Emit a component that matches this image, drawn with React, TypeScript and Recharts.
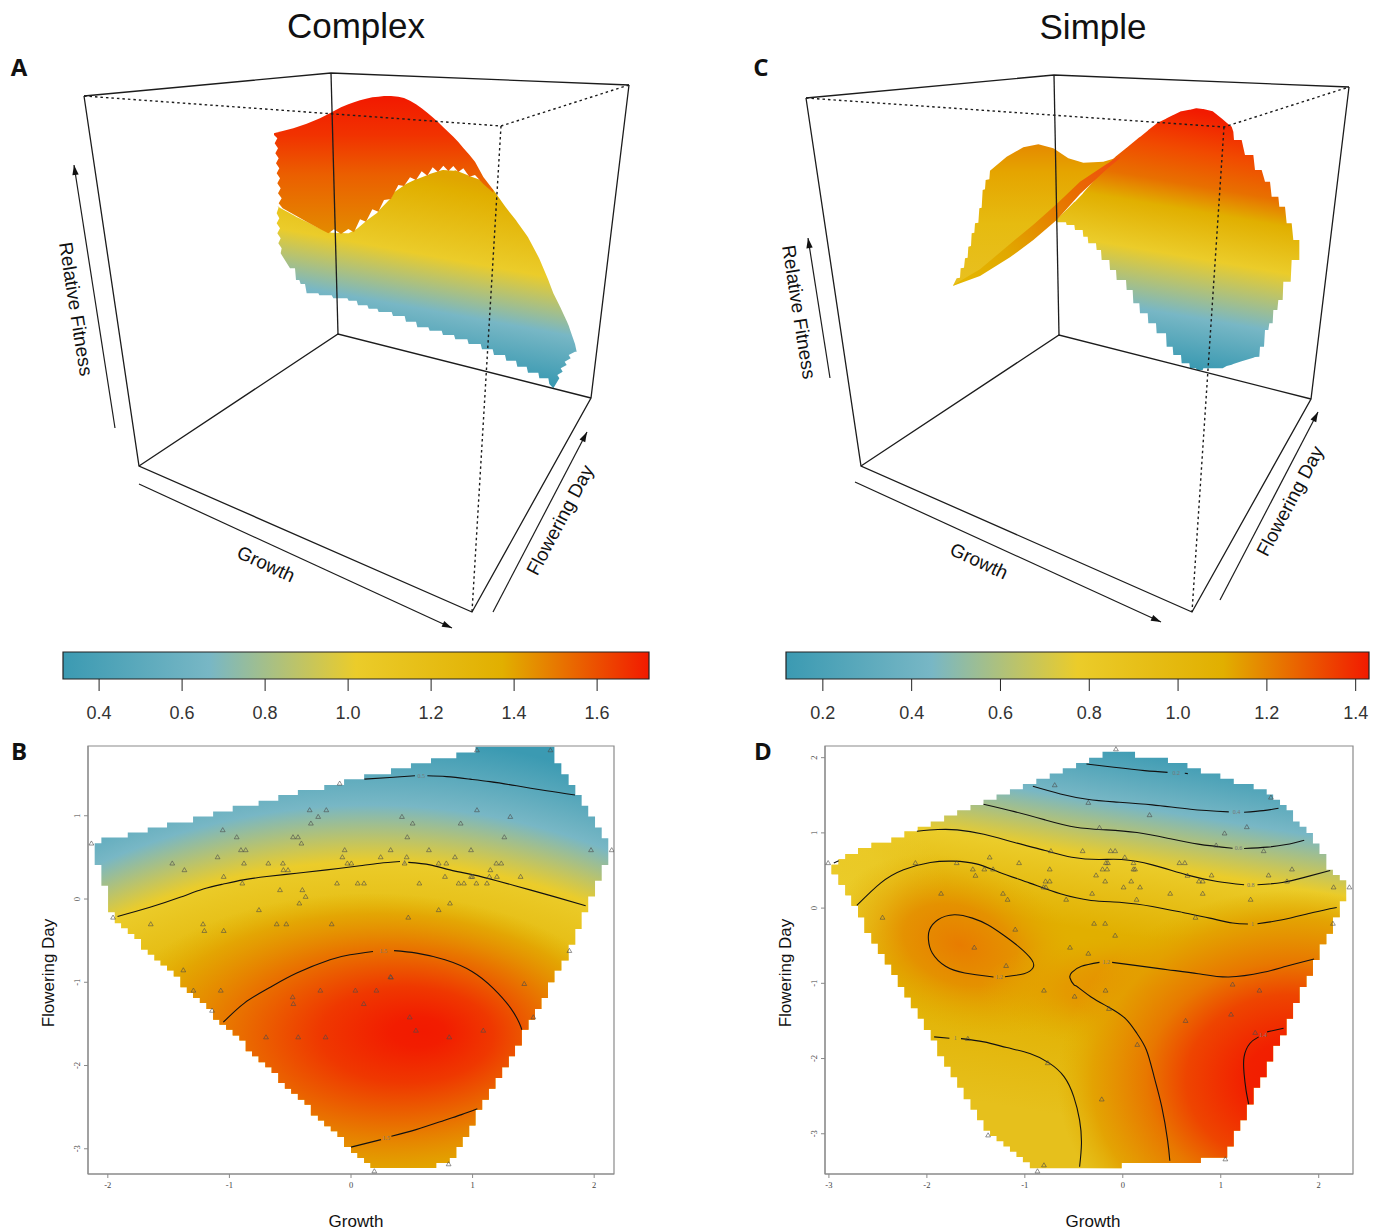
import React from 'react';
import {
  Area, ComposedChart, Line, ReferenceArea, ReferenceDot, Scatter, XAxis, YAxis,
} from 'recharts';

const W = 1379;
const H = 1231;
const ZISSOU = ['#3B9AB2', '#78B7C5', '#EBCC2A', '#E1AF00', '#F21A00'];

// colour keys
const aTicks = [0.4, 0.6, 0.8, 1.0, 1.2, 1.4, 1.6];
const aRange = [0.313, 1.725];
const cTicks = [0.2, 0.4, 0.6, 0.8, 1.0, 1.2, 1.4];
const cRange = [0.117, 1.43];

// ---- panel A, projected surface (screen units of the 3D view)
const aBoxBack = [[[-528, 48], [213, -21], [1107, 15]], [[213, -21], [234, 762]], [[-363, 1158], [234, 762], [993, 954]], [[-528, 48], [-363, 1158], [636, 1596], [993, 954], [1107, 15]]];
const aBoxDashed = [[[-528, 48], [723, 138], [1107, 15]], [[723, 138], [636, 1596]]];
const aArrows = [[[-435, 1044], [-558, 255]], [[-363, 1212], [576, 1644]], [[699, 1596], [981, 1056]]];

const aRedX = [42, 52, 44, 54, 46, 56, 48, 58, 50, 60, 52, 62, 54, 65, 56, 68, 100, 140, 180, 205, 222, 243, 265, 282, 300, 318, 337, 355, 372, 393, 415, 432, 450, 468, 485, 502, 518, 534, 550, 565, 580, 595, 610, 628, 645, 670, 700];
const aRedTop = [160, 157, 159, 156, 159, 156, 158, 155, 158, 155, 157, 155, 156, 154, 156, 153, 145, 131, 115, 102, 93, 82, 73, 67, 61, 56, 52, 50, 48, 48, 50, 54, 62, 73, 85, 98, 112, 126, 142, 156, 170, 186, 204, 224, 245, 291, 330];
const aRedLow = [165, 175, 190, 205, 220, 235, 250, 265, 280, 295, 310, 325, 340, 355, 370, 385, 403, 425, 447, 460, 448, 462, 447, 457, 418, 425, 388, 395, 360, 357, 315, 318, 292, 300, 274, 287, 262, 276, 257, 273, 258, 276, 265, 290, 285, 312, 338];

const aFrontX = [55, 50, 58, 50, 60, 52, 62, 55, 65, 62, 90, 95, 105, 108, 118, 122, 135, 140, 175, 178, 215, 220, 262, 266, 290, 294, 322, 326, 352, 356, 395, 399, 434, 438, 468, 472, 505, 509, 545, 549, 582, 586, 622, 626, 662, 666, 698, 702, 735, 739, 768, 772, 800, 804, 835, 838, 865, 868, 880, 898, 892, 908, 902, 920, 914, 932, 926, 945, 950];
const aFrontTop = [380, 378, 380, 378, 382, 380, 384, 381, 386, 385, 400, 403, 408, 410, 415, 417, 423, 425, 443, 445, 458, 458, 460, 460, 447, 444, 420, 417, 398, 392, 352, 339, 315, 312, 298, 297, 284, 282, 271, 270, 272, 271, 285, 287, 300, 305, 328, 332, 379, 384, 421, 427, 466, 472, 530, 536, 600, 608, 640, 676, 664, 696, 684, 723, 709, 751, 737, 792, 815];
const aFrontLow = [385, 400, 415, 430, 445, 460, 475, 490, 505, 520, 565, 565, 565, 600, 600, 612, 612, 640, 640, 646, 646, 655, 655, 662, 662, 676, 676, 686, 686, 696, 696, 708, 708, 725, 725, 742, 742, 752, 752, 765, 765, 778, 778, 792, 792, 808, 808, 825, 825, 842, 842, 860, 860, 878, 878, 895, 895, 912, 925, 895, 885, 875, 865, 855, 845, 835, 825, 815, 815];

// ---- panel C, projected surface
const cBoxBack = [[[-402, 24], [342, -45], [1227, -9]], [[342, -45], [357, 735]], [[-237, 1128], [357, 735], [1113, 927]], [[-402, 24], [-237, 1128], [756, 1566], [1113, 927], [1227, -9]]];
const cBoxDashed = [[[-402, 24], [852, 111], [1227, -9]], [[852, 111], [756, 1566]]];
const cArrows = [[[-330, 864], [-396, 444]], [[-255, 1176], [663, 1596]], [[840, 1530], [1134, 966]]];

const cBackX = [40, 50, 60, 62, 72, 75, 83, 85, 93, 95, 103, 105, 115, 118, 125, 128, 135, 137, 148, 150, 200, 250, 295, 340, 385, 430, 490, 540];
const cBackTop = [585, 565, 563, 535, 533, 505, 503, 470, 468, 430, 428, 400, 398, 355, 353, 300, 298, 270, 268, 242, 200, 172, 163, 175, 205, 218, 215, 200];
const cBackLow = [587, 582, 577, 575, 570, 568, 564, 563, 559, 558, 554, 553, 548, 546, 542, 540, 535, 534, 525, 523, 490, 450, 412, 377, 340, 300, 235, 200];

const cFoldX = [40, 120, 210, 280, 350, 420, 500, 540];
const cFoldTop = [585, 538, 462, 404, 342, 275, 222, 198];
const cFoldLow = [587, 558, 502, 450, 390, 312, 238, 204];

const cFrontX = [350, 378, 380, 403, 405, 428, 430, 443, 445, 468, 470, 483, 485, 508, 510, 528, 530, 558, 560, 578, 580, 598, 600, 623, 625, 648, 650, 678, 680, 698, 700, 723, 725, 748, 750, 768, 770, 788, 790, 818, 820, 848, 860, 875, 880, 882, 905, 915, 940, 945, 958, 960, 965, 972, 975, 985, 988, 990, 995, 998, 1000, 1012, 1015, 1018, 1028, 1030, 1035, 1040, 1052, 1055, 1060, 1078];
const cFrontTop = [388, 361, 359, 336, 335, 311, 308, 293, 291, 264, 262, 247, 244, 218, 216, 199, 197, 175, 173, 158, 157, 142, 141, 122, 120, 102, 100, 86, 85, 76, 75, 64, 64, 59, 59, 55, 55, 57, 57, 64, 65, 88, 98, 110, 125, 150, 150, 195, 195, 240, 240, 240, 240, 264, 275, 275, 275, 275, 320, 320, 320, 320, 320, 350, 350, 350, 350, 400, 400, 400, 450, 450];
const cFrontLow = [397, 397, 405, 405, 420, 420, 440, 440, 460, 460, 480, 480, 510, 510, 540, 540, 570, 570, 600, 600, 640, 640, 670, 670, 700, 700, 730, 730, 770, 770, 795, 795, 820, 820, 835, 835, 840, 840, 835, 835, 835, 835, 828, 824, 822, 821, 814, 811, 803, 801, 800, 770, 770, 770, 720, 720, 700, 700, 700, 700, 660, 660, 630, 630, 630, 575, 575, 575, 575, 510, 510, 510];

// ---- panel B, fitted surface footprint
const bGrowth = [-2.108, -2.053, -1.998, -1.943, -1.891, -1.836, -1.782, -1.727, -1.672, -1.618, -1.567, -1.513, -1.458, -1.403, -1.35, -1.299, -1.243, -1.189, -1.134, -1.082, -1.027, -0.973, -0.918, -0.866, -0.814, -0.76, -0.705, -0.653, -0.598, -0.544, -0.492, -0.437, -0.382, -0.33, -0.272, -0.22, -0.166, -0.111, -0.057, 0, 0.053, 0.108, 0.16, 0.329, 0.493, 0.658, 0.701, 0.811, 0.866, 0.918, 0.972, 1.024, 1.079, 1.134, 1.188, 1.243, 1.298, 1.349, 1.405, 1.46, 1.513, 1.566, 1.62, 1.673, 1.73, 1.79, 1.845, 1.897, 1.951, 2.007, 2.062, 2.116];
const bTop = [0.67, 0.74, 0.74, 0.74, 0.74, 0.8, 0.8, 0.8, 0.86, 0.86, 0.86, 0.92, 0.92, 0.92, 0.92, 0.99, 0.99, 0.99, 1.05, 1.05, 1.05, 1.12, 1.12, 1.12, 1.12, 1.18, 1.18, 1.18, 1.25, 1.25, 1.25, 1.31, 1.31, 1.31, 1.31, 1.37, 1.37, 1.37, 1.44, 1.44, 1.44, 1.5, 1.5, 1.57, 1.63, 1.69, 1.69, 1.69, 1.76, 1.76, 1.76, 1.83, 1.83, 1.83, 1.83, 1.83, 1.83, 1.83, 1.83, 1.83, 1.83, 1.83, 1.83, 1.63, 1.5, 1.37, 1.25, 1.12, 0.99, 0.86, 0.73, 0.73];
const bBottom = [0.41, 0.16, -0.16, -0.29, -0.35, -0.42, -0.48, -0.61, -0.67, -0.74, -0.8, -0.86, -0.93, -1.06, -1.13, -1.19, -1.25, -1.32, -1.45, -1.51, -1.57, -1.64, -1.7, -1.83, -1.89, -1.96, -2.02, -2.09, -2.21, -2.28, -2.34, -2.41, -2.47, -2.6, -2.66, -2.73, -2.79, -2.86, -2.98, -3.05, -3.11, -3.17, -3.23, -3.23, -3.23, -3.23, -3.17, -3.11, -2.98, -2.86, -2.72, -2.53, -2.41, -2.28, -2.15, -2.02, -1.89, -1.76, -1.57, -1.45, -1.32, -1.19, -1.0, -0.86, -0.74, -0.55, -0.36, -0.16, 0.03, 0.22, 0.41, 0.41];

const bContours = [
  [[0.11, 1.44], [0.32, 1.46], [0.526, 1.48]],
  [[0.628, 1.48], [0.787, 1.47], [0.979, 1.44], [1.143, 1.41], [1.362, 1.36], [1.609, 1.3], [1.842, 1.25]],
  [[-1.92, -0.21], [-1.653, -0.1], [-1.406, 0.02], [-1.215, 0.12], [-1.05, 0.18], [-0.886, 0.23], [-0.693, 0.27], [-0.447, 0.31], [-0.2, 0.35], [0.074, 0.4], [0.238, 0.43], [0.403, 0.45]],
  [[0.471, 0.44], [0.65, 0.41], [0.814, 0.35], [1.006, 0.29], [1.198, 0.22], [1.472, 0.11], [1.692, 0.02], [1.93, -0.08]],
  [[-1.05, -1.48], [-0.877, -1.25], [-0.676, -1.07], [-0.446, -0.89], [-0.173, -0.73], [-0.008, -0.67], [0.181, -0.63]],
  [[0.354, -0.62], [0.54, -0.65], [0.773, -0.73], [0.995, -0.87], [1.168, -1.07], [1.313, -1.31], [1.384, -1.49], [1.405, -1.57]],
  [[0, -2.98], [0.247, -2.89]],
  [[0.332, -2.85], [0.535, -2.77], [0.765, -2.66], [0.909, -2.59], [1.039, -2.52]],
];
const bContourLabels = [[0.577, 1.48, '0.5'], [0.437, 0.445, '1'], [0.268, -0.62, '1.5'], [0.29, -2.87, '1.5']];
const bPoints = [
  [-2.135, 0.67], [-1.055, 0.83], [-0.94, 0.745], [-0.477, 0.745], [-0.436, 0.745], [-0.408, 0.67], [-0.34, 1.07], [-0.27, 0.99], [-0.203, 1.07], [-0.33, 0.91], [-0.905, 0.59], [-0.866, 0.59], [-1.097, 0.505], [-1.47, 0.43], [-1.37, 0.35], [-0.88, 0.43], [-0.68, 0.43], [-0.56, 0.43], [-0.556, 0.35], [-0.518, 0.35], [-1.047, 0.27], [-0.894, 0.19], [-0.584, 0.11], [-0.4, 0.11], [-0.373, 0.03], [-0.425, -0.05], [-0.757, -0.13], [-1.957, -0.22], [-1.647, -0.3], [-1.217, -0.3], [-1.206, -0.38], [-1.047, -0.38], [-0.611, -0.3], [-0.532, -0.3],
  [1.036, 1.79], [1.64, 1.79], [-0.093, 1.39], [0.419, 0.99], [0.507, 0.91], [0.902, 0.91], [1.036, 1.07], [1.31, 0.99], [0.463, 0.745], [1.261, 0.745], [-0.052, 0.59], [0.326, 0.59], [0.641, 0.59], [0.987, 0.59], [1.974, 0.59], [2.144, 0.59], [-0.071, 0.505], [0.244, 0.505], [0.458, 0.505], [0.855, 0.505], [-0.03, 0.43], [0.003, 0.43], [0.441, 0.43], [0.721, 0.43], [0.784, 0.43], [1.195, 0.43], [1.236, 0.43], [1.146, 0.35], [0.773, 0.27], [0.987, 0.27], [0.998, 0.27], [1.138, 0.27], [1.2, 0.27], [1.395, 0.27], [-0.115, 0.19], [0.055, 0.19], [0.107, 0.19], [0.562, 0.19], [0.885, 0.19], [0.929, 0.19], [1.031, 0.19], [1.118, 0.19], [0.814, -0.05], [0.721, -0.13], [0.471, -0.22], [-0.159, -0.3], [1.796, -0.62], [0.329, -0.94],
  [-1.379, -0.853], [-1.296, -1.097], [-1.071, -1.097], [-1.143, -1.338], [-0.48, -1.177], [-0.474, -1.258], [-0.252, -1.097], [0.036, -1.097], [0.209, -1.097], [0.105, -1.258], [0.324, -0.933], [1.425, -1.017], [1.5, -1.418], [0.483, -1.418], [0.534, -1.578], [1.088, -1.578], [-0.699, -1.658], [-0.434, -1.658], [-0.209, -1.658], [0.808, -1.658], [0.192, -3.267], [0.803, -3.183],
];

// ---- panel D
const dGrowth = [-2.973, -2.902, -2.832, -2.77, -2.703, -2.637, -2.566, -2.5, -2.43, -2.363, -2.297, -2.23, -2.164, -2.094, -2.031, -1.961, -1.895, -1.824, -1.758, -1.691, -1.625, -1.555, -1.488, -1.422, -1.355, -1.289, -1.219, -1.152, -1.086, -1.02, -0.949, -0.883, -0.746, -0.613, -0.477, -0.344, -0.207, -0.012, 0.125, 0.461, 0.66, 0.797, 0.996, 1.066, 1.133, 1.199, 1.266, 1.336, 1.402, 1.469, 1.535, 1.605, 1.672, 1.738, 1.805, 1.875, 1.941, 2.008, 2.078, 2.145, 2.215, 2.281];
const dTop = [0.575, 0.65, 0.72, 0.72, 0.8, 0.8, 0.87, 0.87, 0.87, 0.94, 0.94, 1.02, 1.02, 1.08, 1.08, 1.15, 1.15, 1.23, 1.23, 1.3, 1.3, 1.37, 1.37, 1.44, 1.44, 1.51, 1.51, 1.58, 1.58, 1.65, 1.65, 1.72, 1.79, 1.86, 1.93, 2.0, 2.08, 2.08, 2.0, 1.93, 1.86, 1.79, 1.72, 1.72, 1.65, 1.65, 1.65, 1.58, 1.58, 1.51, 1.44, 1.37, 1.3, 1.15, 1.08, 1.0, 0.86, 0.72, 0.51, 0.44, 0.37, 0.37];
const dBottom = [0.45, 0.31, 0.17, 0.03, -0.12, -0.33, -0.47, -0.61, -0.75, -0.89, -1.05, -1.19, -1.33, -1.47, -1.62, -1.76, -1.97, -2.11, -2.25, -2.39, -2.54, -2.68, -2.82, -2.96, -3.03, -3.1, -3.17, -3.24, -3.31, -3.38, -3.46, -3.46, -3.46, -3.46, -3.46, -3.46, -3.46, -3.39, -3.39, -3.39, -3.39, -3.32, -3.32, -3.17, -2.96, -2.82, -2.61, -2.39, -2.25, -2.04, -1.83, -1.69, -1.47, -1.26, -1.05, -0.9, -0.69, -0.48, -0.34, -0.12, 0.09, 0.09];

const dContours = [
  [[-0.371, 1.916], [-0.09, 1.872], [0.223, 1.827], [0.457, 1.805]],
  [[0.633, 1.792], [0.664, 1.788]],
  [[-0.918, 1.619], [-0.637, 1.518], [-0.363, 1.447], [-0.09, 1.412], [0.301, 1.372], [0.691, 1.314], [1.082, 1.279]],
  [[1.238, 1.274], [1.434, 1.296], [1.59, 1.327]],
  [[-1.422, 1.381], [-1.105, 1.283], [-0.793, 1.173], [-0.48, 1.075], [-0.168, 1.04], [0.145, 1.004], [0.457, 0.929], [0.77, 0.85], [1.121, 0.796]],
  [[1.238, 0.792], [1.473, 0.81], [1.668, 0.845], [1.852, 0.903]],
  [[-2.102, 1.022], [-1.887, 1.044], [-1.691, 1.04], [-1.418, 0.982], [-1.105, 0.872], [-0.793, 0.765], [-0.52, 0.677], [-0.246, 0.646], [-0.012, 0.646], [0.301, 0.575], [0.652, 0.442], [0.965, 0.354], [1.238, 0.31]],
  [[1.375, 0.31], [1.629, 0.341], [1.863, 0.412], [2.117, 0.5]],
  [[-2.715, 0.035], [-2.473, 0.332], [-2.238, 0.509], [-1.965, 0.606], [-1.73, 0.624], [-1.496, 0.588], [-1.262, 0.478], [-0.949, 0.332], [-0.637, 0.19], [-0.324, 0.102], [-0.012, 0.075], [0.301, 0.022], [0.613, -0.058], [0.887, -0.133], [1.121, -0.199], [1.277, -0.212]],
  [[1.375, -0.208], [1.629, -0.155], [1.941, -0.058], [2.184, 0.009]],
  [[-2.95, 0.6], [-2.9, 0.63]],
  [[-1.203, -0.912], [-1.008, -0.872], [-0.918, -0.796], [-0.93, -0.686], [-1.066, -0.509], [-1.223, -0.354], [-1.379, -0.221], [-1.535, -0.133], [-1.719, -0.088], [-1.887, -0.155], [-1.973, -0.288], [-1.984, -0.42], [-1.945, -0.597], [-1.809, -0.774], [-1.613, -0.863], [-1.32, -0.916]],
  [[1.953, -0.677], [1.668, -0.774], [1.434, -0.854], [1.082, -0.916], [0.77, -0.872], [0.457, -0.819], [0.145, -0.765], [-0.109, -0.721]],
  [[-0.238, -0.721], [-0.422, -0.774], [-0.52, -0.854], [-0.539, -0.929], [-0.5, -1.018], [-0.461, -1.049], [-0.324, -1.181], [-0.148, -1.314], [0.027, -1.469], [0.145, -1.668], [0.242, -1.889], [0.32, -2.243], [0.398, -2.642], [0.457, -3.084], [0.48, -3.358]],
  [[-1.926, -1.712], [-1.77, -1.73]],
  [[-1.652, -1.735], [-1.418, -1.779], [-1.184, -1.854], [-0.949, -1.934], [-0.754, -2.058], [-0.598, -2.243], [-0.5, -2.509], [-0.441, -2.819], [-0.422, -3.128], [-0.441, -3.438]],
  [[1.641, -1.597], [1.473, -1.646]],
  [[1.387, -1.712], [1.297, -1.8], [1.238, -1.978], [1.238, -2.199], [1.258, -2.42], [1.285, -2.606]],
];
const dContourLabels = [[0.545, 1.8, '0.2'], [1.16, 1.275, '0.4'], [1.18, 0.795, '0.6'], [1.305, 0.31, '0.8'], [1.325, -0.21, '1'], [-1.26, -0.915, '1.2'], [-0.17, -0.72, '1.2'], [-1.71, -1.73, '1'], [1.43, -1.68, '1.4']];
const dPoints = [
  [-0.07, 2.115], [-0.695, 1.637], [-0.352, 1.403], [0.273, 1.239], [1.512, 1.473], [1.266, 1.08], [1.039, 0.996], [0.953, 0.836], [1.438, 0.761], [-0.238, 1.071], [-3.008, 0.602], [-2.117, 0.602], [-1.695, 0.602], [-1.359, 0.677], [-1.059, 0.602], [-0.734, 0.761], [-0.41, 0.761], [-0.125, 0.761], [-0.078, 0.761], [0.02, 0.677], [-0.152, 0.602], [-0.172, 0.602], [-1.531, 0.518], [-1.414, 0.518], [-1.324, 0.518], [-1.504, 0.434], [-0.746, 0.518], [-0.207, 0.518], [-0.16, 0.518], [0.109, 0.518], [0.125, 0.518], [0.109, 0.602], [-0.273, 0.438], [-0.18, 0.358], [0.086, 0.358], [-0.789, 0.358], [-0.746, 0.358], [-0.809, 0.279], [-0.785, 0.279], [0.008, 0.279], [0.176, 0.279], [0.578, 0.602], [0.633, 0.602], [0.66, 0.434], [0.906, 0.438], [0.777, 0.358], [0.816, 0.358], [1.488, 0.438], [1.676, 0.358], [1.727, 0.518], [2.152, 0.279], [2.313, 0.279], [-1.855, 0.195], [-1.223, 0.195], [-1.176, 0.115], [-0.578, 0.115], [-0.313, 0.195], [0.141, 0.115], [0.484, 0.195], [0.816, 0.195], [1.305, 0.115], [-2.453, -0.124], [0.742, -0.124], [-0.293, -0.204], [-0.18, -0.204], [2.145, -0.204], [-1.098, -0.283], [-0.078, -0.363], [-1.516, -0.522], [-0.539, -0.522], [-0.352, -0.602], [-1.191, -0.765],
  [-0.805, -1.093], [-0.176, -1.093], [-0.492, -1.173], [1.121, -1.013], [1.395, -1.093], [-0.141, -1.336], [1.105, -1.412], [0.641, -1.496], [1.352, -1.655], [-1.582, -1.735], [0.148, -1.814], [-0.766, -2.058], [-0.215, -2.54], [-1.375, -3.018], [-0.805, -3.416], [-0.871, -3.496], [1.047, -3.336],
];

const toXY = (seg) => seg.map(([x, y]) => ({ x, y }));
const toRows = (xs, lo, hi) => xs.map((x, i) => ({ x, band: [lo[i], hi[i]] }));

const Stops = ({ items }) => items.map(([o, c, a], i) => (
  <stop key={i} offset={o} stopColor={c} stopOpacity={a ?? 1} />
));

const Triangle = (p) => {
  const { cx, cy } = p;
  return <path d={`M${cx} ${cy - 2.3}L${cx + 2.4} ${cy + 1.8}L${cx - 2.4} ${cy + 1.8}Z`} fill="none" stroke="#4b4b4b" strokeWidth={0.7} opacity={0.85} />;
};

const xTick = (p) => (
  <text x={p.x} y={p.y + 8} textAnchor="middle" fontSize={8.5} fill="#444">{p.payload.value}</text>
);
const yTick = (p) => (
  <text x={p.x - 2} y={p.y} textAnchor="middle" fontSize={8.5} fill="#444" transform={`rotate(-90 ${p.x - 2} ${p.y})`}>{p.payload.value}</text>
);

function HeatPanel({ plot, xDomain, yDomain, xTicks, yTicks, rows, contours, labels, points, fills, defs }) {
  return (
    <div style={{ position: 'absolute', left: 0, top: 0 }}>
      <ComposedChart
        width={W}
        height={H}
        margin={{ left: plot.left - 20, right: W - plot.right, top: plot.top, bottom: H - plot.bottom - 22 }}
      >
        <defs>{defs}</defs>
        <XAxis dataKey="x" type="number" domain={xDomain} ticks={xTicks} allowDataOverflow height={22} tick={xTick} tickSize={4} stroke="#8a8a8a" interval={0} />
        <YAxis dataKey="y" type="number" domain={yDomain} ticks={yTicks} allowDataOverflow width={20} tick={yTick} tickSize={4} stroke="#8a8a8a" interval={0} />
        {fills.map((f) => (
          <Area key={f} data={rows} dataKey="band" type="stepAfter" stroke="none" fill={`url(#${f})`} fillOpacity={1} dot={false} activeDot={false} isAnimationActive={false} />
        ))}
        {contours.map((seg, i) => (
          <Line key={i} data={toXY(seg)} dataKey="y" type="natural" stroke="#111" strokeWidth={1.1} dot={false} activeDot={false} isAnimationActive={false} />
        ))}
        <Scatter data={toXY(points)} dataKey="y" shape={Triangle} isAnimationActive={false} />
        {labels.map(([x, y, t], i) => (
          <ReferenceDot key={i} x={x} y={y} r={0} stroke="none" label={{ value: t, fontSize: 6, fill: '#777', position: 'center' }} />
        ))}
        <ReferenceArea x1={xDomain[0]} x2={xDomain[1]} y1={yDomain[0]} y2={yDomain[1]} fill="none" stroke="#8a8a8a" strokeWidth={1.2} ifOverflow="extendDomain" />
      </ComposedChart>
    </div>
  );
}

function ColorKey({ left, right, range, ticks, id }) {
  const rows = [{ x: range[0], band: [0, 1] }, { x: range[1], band: [0, 1] }];
  return (
    <div style={{ position: 'absolute', left: 0, top: 0 }}>
      <ComposedChart width={W} height={H} margin={{ left, right: W - right, top: 652, bottom: H - 679 - 60 }}>
        <defs>
          <linearGradient id={id} gradientUnits="userSpaceOnUse" x1={left} y1={0} x2={right} y2={0}>
            {ZISSOU.map((c, i) => <stop key={c} offset={i / (ZISSOU.length - 1)} stopColor={c} />)}
          </linearGradient>
        </defs>
        <XAxis
          dataKey="x" type="number" domain={range} ticks={ticks} allowDataOverflow height={60} interval={0}
          tickSize={12} tickMargin={15} axisLine={false} stroke="#222"
          tick={{ fontSize: 18, fill: '#333', fontFamily: 'Liberation Sans' }}
          tickFormatter={(v) => v.toFixed(1)}
        />
        <YAxis type="number" domain={[0, 1]} hide />
        <Area data={rows} dataKey="band" type="linear" stroke="none" fill={`url(#${id})`} fillOpacity={1} dot={false} activeDot={false} isAnimationActive={false} />
        <ReferenceArea x1={range[0]} x2={range[1]} y1={0} y2={1} fill="none" stroke="#222" strokeWidth={1.2} />
      </ComposedChart>
    </div>
  );
}

const arrowDot = (seg) => (p) => {
  if (p.index !== 1) return <g key={p.index} />;
  const a = (Math.atan2(seg[1][1] - seg[0][1], seg[1][0] - seg[0][0]) * 180) / Math.PI;
  return <path key={p.index} d="M0 0L-10 -3.2L-10 3.2Z" fill="#111" transform={`translate(${p.cx} ${p.cy}) rotate(${a})`} />;
};

function Box3D({ xDomain, yDomain, back, dashed, arrows, sheets, defs }) {
  return (
    <div style={{ position: 'absolute', left: 0, top: 0 }}>
      <ComposedChart width={W} height={H} margin={{ left: 0, right: 0, top: 0, bottom: 0 }}>
        <defs>{defs}</defs>
        <XAxis dataKey="x" type="number" domain={xDomain} allowDataOverflow hide />
        <YAxis dataKey="y" type="number" domain={yDomain} allowDataOverflow reversed hide />
        {back.map((seg, i) => (
          <Line key={`b${i}`} data={toXY(seg)} dataKey="y" type="linear" stroke="#1c1c1c" strokeWidth={1.3} dot={false} activeDot={false} isAnimationActive={false} />
        ))}
        {arrows.map((seg, i) => (
          <Line key={`a${i}`} data={toXY(seg)} dataKey="y" type="linear" stroke="#1c1c1c" strokeWidth={1.2} dot={arrowDot(seg)} activeDot={false} isAnimationActive={false} />
        ))}
        {sheets.map(([rows, fill], i) => (
          <Area key={`s${i}`} data={rows} dataKey="band" type="linear" stroke="none" fill={`url(#${fill})`} fillOpacity={1} dot={false} activeDot={false} isAnimationActive={false} />
        ))}
        {dashed.map((seg, i) => (
          <Line key={`d${i}`} data={toXY(seg)} dataKey="y" type="linear" stroke="#1c1c1c" strokeWidth={1.4} strokeDasharray="2.5 3" dot={false} activeDot={false} isAnimationActive={false} />
        ))}
      </ComposedChart>
    </div>
  );
}

function Caption({ x, y, size, rotate = 0, bold, font = 'Liberation Sans', color = '#111', children }) {
  return (
    <div style={{
      position: 'absolute', left: x, top: y, whiteSpace: 'nowrap', fontSize: size, lineHeight: 1,
      fontFamily: font, fontWeight: bold ? 700 : 400, color,
      transform: `translate(-50%, -50%) rotate(${rotate}deg)`,
    }}
    >
      {children}
    </div>
  );
}

export default function App() {
  return (
    <div style={{ position: 'absolute', left: 0, top: 0, width: W, height: H, overflow: 'hidden', background: '#fff' }}>
      <Box3D
        xDomain={[-780, 3357]}
        yDomain={[-240, 3453]}
        back={aBoxBack}
        dashed={aBoxDashed}
        arrows={aArrows}
        sheets={[[toRows(aFrontX, aFrontLow, aFrontTop), 'aFront'], [toRows(aRedX, aRedLow, aRedTop), 'aRed']]}
        defs={(
          <>
            <linearGradient id="aRed" gradientUnits="userSpaceOnUse" x1={0} y1={98} x2={0} y2={235}>
              <Stops items={[[0, '#F21A00'], [0.27, '#F13200'], [0.56, '#EB5F00'], [1, '#E38C00']]} />
            </linearGradient>
            <linearGradient id="aFront" gradientUnits="userSpaceOnUse" x1={427} y1={173} x2={394} y2={356}>
              <Stops items={[[0, '#E0A500'], [0.07, '#E1AF00'], [0.434, '#EBCC2A'], [0.725, '#78B7C5'], [1, '#3B9AB2']]} />
            </linearGradient>
          </>
        )}
      />
      <Box3D
        xDomain={[-2820, 1317]}
        yDomain={[-270, 3423]}
        back={cBoxBack}
        dashed={cBoxDashed}
        arrows={cArrows}
        sheets={[[toRows(cBackX, cBackLow, cBackTop), 'cBack'], [toRows(cFrontX, cFrontLow, cFrontTop), 'cFront'], [toRows(cFoldX, cFoldLow, cFoldTop), 'cFold']]}
        defs={(
          <>
            <linearGradient id="cBack" gradientUnits="userSpaceOnUse" x1={0} y1={145} x2={0} y2={283}>
              <Stops items={[[0, '#E58A00'], [0.2, '#E5A500'], [0.57, '#E6BB10'], [1, '#E8C020']]} />
            </linearGradient>
            <linearGradient id="cFold" gradientUnits="userSpaceOnUse" x1={1120} y1={158} x2={953} y2={285}>
              <Stops items={[[0, '#F04A10'], [0.3, '#E87000'], [0.7, '#E1A800'], [1, '#E5B800']]} />
            </linearGradient>
            <linearGradient id="cFront" gradientUnits="userSpaceOnUse" x1={1190} y1={110} x2={1147.5} y2={360}>
              <Stops items={[[0, '#F21A00'], [0.156, '#F14A00'], [0.29, '#E87000'], [0.39, '#E1AF00'], [0.572, '#EBCC2A'], [0.805, '#78B7C5'], [1, '#3B9AB2']]} />
            </linearGradient>
          </>
        )}
      />
      <ColorKey left={63} right={649} range={aRange} ticks={aTicks} id="keyA" />
      <ColorKey left={786} right={1369} range={cRange} ticks={cTicks} id="keyC" />
      <HeatPanel
        plot={{ left: 88, right: 614, top: 746, bottom: 1174 }}
        xDomain={[-2.163, 2.163]}
        yDomain={[-3.303, 1.838]}
        xTicks={[-2, -1, 0, 1, 2]}
        yTicks={[-3, -2, -1, 0, 1]}
        rows={toRows(bGrowth, bBottom, bTop)}
        contours={bContours}
        labels={bContourLabels}
        points={bPoints}
        fills={['bBase', 'bBlob']}
        defs={(
          <>
            <radialGradient id="bBase" gradientUnits="userSpaceOnUse" cx={370} cy={1462} r={730}>
              <Stops items={[[0, '#E1AF00'], [0.685, '#E1AF00'], [0.822, '#EBCC2A'], [0.9, '#78B7C5'], [0.993, '#3B9AB2'], [1, '#3B9AB2']]} />
            </radialGradient>
            <radialGradient id="bBlob" gradientUnits="userSpaceOnUse" cx={0} cy={0} r={1} fx={0.2} fy={-0.08} gradientTransform="translate(370 1043) scale(270 150)">
              <Stops items={[[0, '#F21A00'], [0.1, '#F21D00'], [0.32, '#EF3800'], [0.62, '#E87800'], [0.85, '#E3A000', 0.8], [1, '#E1AF00', 0]]} />
            </radialGradient>
          </>
        )}
      />
      <HeatPanel
        plot={{ left: 825, right: 1353, top: 746, bottom: 1174 }}
        xDomain={[-3.04, 2.35]}
        yDomain={[-3.535, 2.155]}
        xTicks={[-3, -2, -1, 0, 1, 2]}
        yTicks={[-3, -2, -1, 0, 1, 2]}
        rows={toRows(dGrowth, dBottom, dTop)}
        contours={dContours}
        labels={dContourLabels}
        points={dPoints}
        fills={['dBase', 'dLeft', 'dLobe', 'dMid', 'dRight']}
        defs={(
          <>
            <linearGradient id="dBase" gradientUnits="userSpaceOnUse" x1={1123} y1={745} x2={1060.6} y2={1135}>
              <Stops items={[[0, '#3B9AB2'], [0.15, '#78B7C5'], [0.29, '#EBCC2A'], [0.475, '#E1AF00'], [0.66, '#E1AF00'], [0.95, '#E6C01C'], [1, '#E6C01C']]} />
            </linearGradient>
            <radialGradient id="dLeft" gradientUnits="userSpaceOnUse" cx={0} cy={0} r={1} gradientTransform="translate(835 890) scale(110 90)">
              <Stops items={[[0, '#EBCC2A'], [0.5, '#EBCC2A', 0.8], [1, '#EBCC2A', 0]]} />
            </radialGradient>
            <radialGradient id="dLobe" gradientUnits="userSpaceOnUse" cx={0} cy={0} r={1} gradientTransform="translate(960 945) rotate(20) scale(130 85)">
              <Stops items={[[0, '#E87C00'], [0.45, '#E58E00', 0.9], [1, '#E1AF00', 0]]} />
            </radialGradient>
            <radialGradient id="dMid" gradientUnits="userSpaceOnUse" cx={0} cy={0} r={1} gradientTransform="translate(1150 990) scale(170 60)">
              <Stops items={[[0, '#E88400'], [0.5, '#E59500', 0.8], [1, '#E1AF00', 0]]} />
            </radialGradient>
            <radialGradient id="dRight" gradientUnits="userSpaceOnUse" cx={0} cy={0} r={1} gradientTransform="translate(1292 1080) scale(235 190)">
              <Stops items={[[0, '#F21A00'], [0.2, '#F22000'], [0.45, '#EE4500'], [0.62, '#E87800'], [0.85, '#E3A000', 0.9], [1, '#E1AF00', 0]]} />
            </radialGradient>
          </>
        )}
      />
      <Caption x={356} y={25} size={35}>Complex</Caption>
      <Caption x={1093} y={26} size={35}>Simple</Caption>
      <Caption x={19} y={67} size={24} bold font="Open Sans">A</Caption>
      <Caption x={761} y={67} size={24} bold font="Open Sans">C</Caption>
      <Caption x={19} y={751} size={24} bold font="Open Sans">B</Caption>
      <Caption x={763} y={751} size={24} bold font="Open Sans">D</Caption>
      <Caption x={76} y={309} size={19} rotate={81}>Relative Fitness</Caption>
      <Caption x={266} y={564} size={19} rotate={25}>Growth</Caption>
      <Caption x={560} y={520} size={19} rotate={-62}>Flowering Day</Caption>
      <Caption x={799} y={312} size={19} rotate={81}>Relative Fitness</Caption>
      <Caption x={979} y={561} size={19} rotate={25}>Growth</Caption>
      <Caption x={1290} y={501} size={19} rotate={-62}>Flowering Day</Caption>
      <Caption x={356} y={1221} size={17}>Growth</Caption>
      <Caption x={1093} y={1221} size={17}>Growth</Caption>
      <Caption x={48} y={973} size={17} rotate={-90}>Flowering Day</Caption>
      <Caption x={785} y={973} size={17} rotate={-90}>Flowering Day</Caption>
    </div>
  );
}
